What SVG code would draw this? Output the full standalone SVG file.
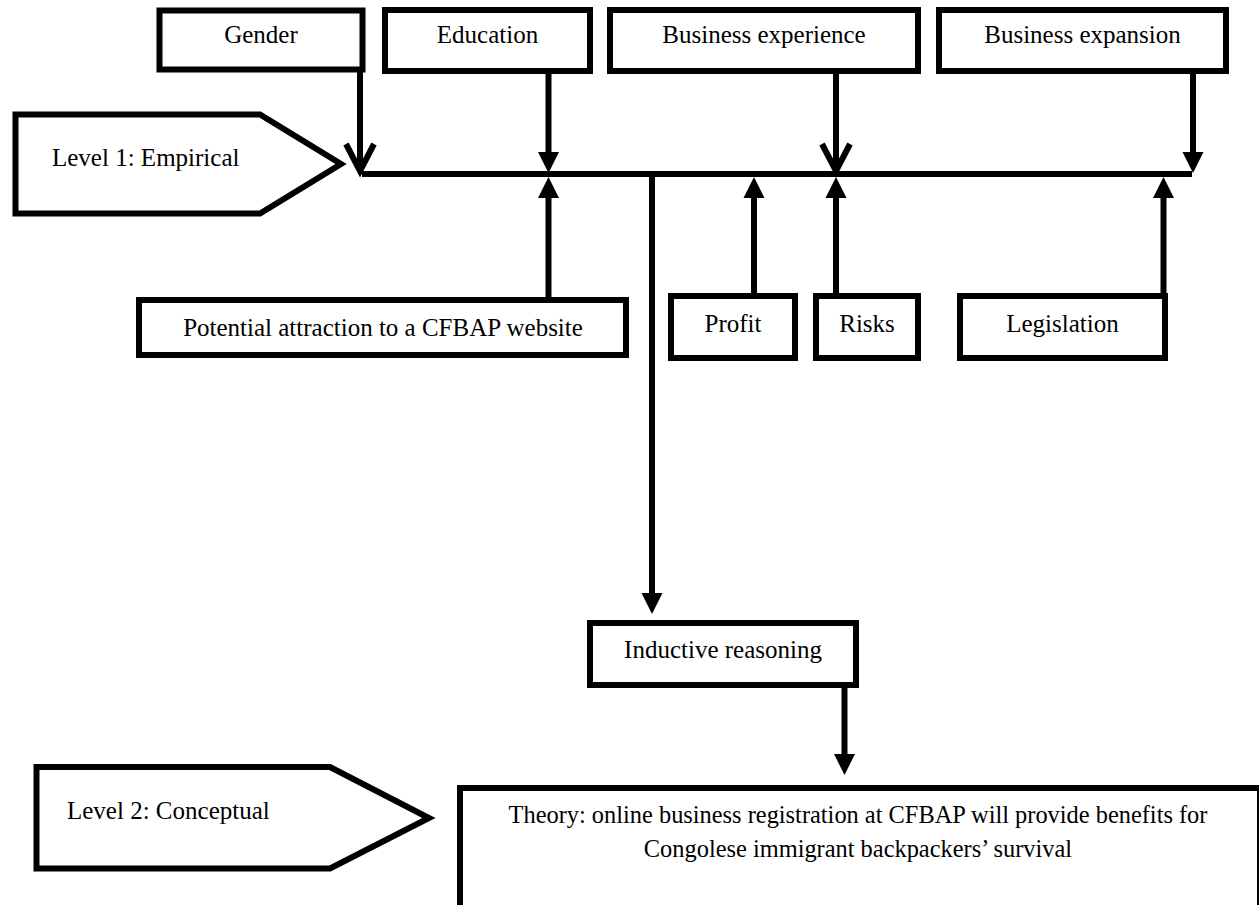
<svg xmlns="http://www.w3.org/2000/svg" width="1259" height="905" viewBox="0 0 1259 905">
  <style>
    .box { fill: #ffffff; stroke: #000000; stroke-width: 6; }
    .lbl { font-family: "Liberation Serif", "Times New Roman", serif; font-size: 25px; fill: #000000; text-anchor: middle; }
    .lbl-start { text-anchor: start; }
    .conn { fill: none; stroke: #000000; stroke-width: 6; }
  </style>
  <defs>
    <marker id="headFilled" viewBox="0 0 21 21" refX="0" refY="10.5" markerWidth="21" markerHeight="21" markerUnits="userSpaceOnUse" orient="auto" overflow="visible">
      <path d="M0,0 L21,10.5 L0,21 Z" fill="#000000"/>
    </marker>
    <marker id="headOpen" viewBox="-30 -17 34 34" refX="0" refY="0" markerWidth="34" markerHeight="34" markerUnits="userSpaceOnUse" orient="auto" overflow="visible">
      <path d="M-27,-14 L0,0 L-27,14" fill="none" stroke="#000000" stroke-width="6"/>
    </marker>
  </defs>

  <g id="connectors">
    <path class="conn" d="M362,174 L1192,174" stroke-width="5"/>
    <path class="conn" d="M360,72 L360,171" marker-end="url(#headOpen)"/>
    <path class="conn" d="M548.5,74 L548.5,152" marker-end="url(#headFilled)"/>
    <path class="conn" d="M836,74 L836,171" marker-end="url(#headOpen)"/>
    <path class="conn" d="M1193,74 L1193,152" marker-end="url(#headFilled)"/>
    <path class="conn" d="M548.5,297 L548.5,198" marker-end="url(#headFilled)"/>
    <path class="conn" d="M754,293 L754,198" marker-end="url(#headFilled)"/>
    <path class="conn" d="M836,293 L836,198" marker-end="url(#headFilled)"/>
    <path class="conn" d="M1163.5,293 L1163.5,198" marker-end="url(#headFilled)"/>
    <path class="conn" d="M652,174 L652,593" marker-end="url(#headFilled)"/>
    <path class="conn" d="M844.5,688 L844.5,754" marker-end="url(#headFilled)"/>
  </g>

  <g id="level1">
    <polygon class="box" points="15.5,114.5 260,114.5 341,164 260,213.5 15.5,213.5" stroke-width="5"/>
    <text class="lbl lbl-start" x="52" y="166">Level 1: Empirical</text>
  </g>

  <g id="gender">
    <rect class="box" x="159.5" y="10.5" width="203" height="59" stroke-width="5"/>
    <text class="lbl" x="261" y="43">Gender</text>
  </g>

  <g id="education">
    <rect class="box" x="385" y="10" width="205" height="61"/>
    <text class="lbl" x="487.5" y="43">Education</text>
  </g>

  <g id="business-experience">
    <rect class="box" x="610" y="10" width="308" height="61"/>
    <text class="lbl" x="764" y="43">Business experience</text>
  </g>

  <g id="business-expansion">
    <rect class="box" x="939" y="10" width="287" height="61"/>
    <text class="lbl" x="1082.5" y="43">Business expansion</text>
  </g>

  <g id="potential-attraction">
    <rect class="box" x="139" y="300" width="487" height="55"/>
    <text class="lbl" x="383" y="336">Potential attraction to a CFBAP website</text>
  </g>

  <g id="profit">
    <rect class="box" x="671" y="296" width="124" height="62"/>
    <text class="lbl" x="733" y="332">Profit</text>
  </g>

  <g id="risks">
    <rect class="box" x="816" y="296" width="102" height="62"/>
    <text class="lbl" x="867" y="332">Risks</text>
  </g>

  <g id="legislation">
    <rect class="box" x="960" y="296" width="205" height="62"/>
    <text class="lbl" x="1062.5" y="332">Legislation</text>
  </g>

  <g id="inductive-reasoning">
    <rect class="box" x="590" y="623" width="266" height="62"/>
    <text class="lbl" x="723" y="658">Inductive reasoning</text>
  </g>

  <g id="level2">
    <polygon class="box" points="36.5,767 330,767 429,818 330,868.5 36.5,868.5" stroke-width="6.5"/>
    <text class="lbl lbl-start" x="67" y="819">Level 2: Conceptual</text>
  </g>

  <g id="theory">
    <rect class="box" x="460" y="788" width="800" height="120" stroke-width="7"/>
    <text class="lbl" x="858" y="822.5" style="font-size:24.4px">Theory: online business registration at CFBAP will provide benefits for</text>
    <text class="lbl" x="858" y="857" style="font-size:24.4px">Congolese immigrant backpackers’ survival</text>
  </g>
</svg>
